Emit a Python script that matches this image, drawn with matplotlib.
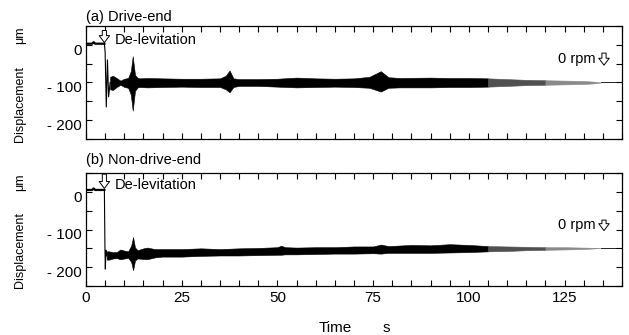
import numpy as np
import matplotlib
matplotlib.use("Agg")
import matplotlib.pyplot as plt
from matplotlib.ticker import MultipleLocator, FuncFormatter
from matplotlib.transforms import ScaledTranslation

plt.rcParams['font.family'] = ['Liberation Sans', 'DejaVu Sans']

# levitated level before touchdown (um)
pre_t = [0, 1.6, 2.0, 2.4, 4.8]
pre_a = [3, 3, 7, 3, 3]
pre_b = [5, 5, 9, 5, 5]

# drop at de-levitation
drop_t_a = [4.8, 5.0, 5.3, 5.6, 5.9, 6.3]
drop_a = [3, -20, -165, -40, -138, -100]
drop_t_b = [4.8, 4.95, 5.05, 5.2, 5.4]
drop_b = [5, -150, -205, -155, -170]

# vibration envelope, drive-end
t_a = [6.3, 7, 8, 9, 10, 11, 11.7, 12.2, 12.8, 13.5, 14, 16, 20, 25, 30, 35, 36.5,
       37.5, 38.5, 40, 45, 50, 55, 60, 65, 70, 74, 77, 79, 82, 90, 95, 100, 105,
       110, 115, 120, 125, 130, 133, 134.5]
up_a = [-85, -82, -88, -95, -90, -88, -70, -30, -80, -88, -89, -88, -89, -90, -90,
        -89, -82, -68, -89, -91, -91, -90, -87, -89, -90, -89, -85, -70, -86, -88,
        -87, -88, -88, -89, -91, -93, -94, -95, -96, -98, -100]
lo_a = [-118, -120, -112, -106, -112, -114, -132, -175, -122, -113, -112, -113,
        -112, -111, -112, -112, -118, -126, -112, -109, -109, -111, -113, -112,
        -111, -112, -114, -124, -114, -113, -113, -112, -112, -111, -109, -107,
        -106, -105, -104, -102, -100]

# vibration envelope, non-drive-end
t_b = [5.4, 6, 7, 8, 9, 10, 11, 11.8, 12.3, 12.8, 13.5, 15, 16, 18, 20, 25, 30, 35,
       40, 45, 50, 51, 52, 55, 60, 65, 70, 75, 77, 79, 85, 90, 95, 100, 105, 110,
       115, 120, 125, 130, 134.5]
up_b = [-158, -158, -160, -160, -153, -156, -158, -143, -120, -148, -155, -150,
        -148, -152, -152, -152, -150, -152, -150, -149, -147, -143, -147, -148,
        -147, -147, -145, -145, -140, -144, -141, -142, -139, -141, -144, -145,
        -146, -147, -147, -148, -149]
lo_b = [-180, -180, -177, -176, -179, -177, -175, -186, -208, -182, -177, -178,
        -179, -174, -172, -172, -170, -169, -169, -168, -167, -167, -166, -166,
        -165, -164, -164, -163, -164, -162, -162, -162, -161, -160, -158, -157,
        -155, -154, -153, -152, -149]

tail_t = [134.5, 140]
tail_a = [-100, -100]
tail_b = [-149, -149]

shades = [(0, 105, 'black'), (105, 120, '#505050'), (120, 135, '#8a8a8a')]

fig = plt.figure(figsize=(6.29, 3.35), dpi=100)
W, H = 629, 335


def px_axes(left, top, right, bottom):
    return fig.add_axes([left / W, 1 - bottom / H, (right - left) / W, (bottom - top) / H])


def ylab(v, pos):
    return '0' if v == 0 else '- %d' % abs(v)


def draw(ax, t, up, lo, pt, pv, dt, dv, tv, title, title_y, rpm_y, lev_y, arr_top, rpm_arr):
    t = np.array(t)
    up = np.array(up)
    lo = np.array(lo)
    ax.plot(pt, pv, color='black', lw=1.6)
    ax.plot(dt, dv, color='black', lw=0.8)
    for a, b, c in shades:
        m = (t >= a) & (t <= b)
        ax.fill_between(t[m], lo[m], up[m], color=c, lw=0.4)
    ax.plot(tail_t, tv, color='black', lw=0.6)

    ax.set_xlim(0, 140)
    ax.set_ylim(-250, 50)
    ax.xaxis.set_major_locator(MultipleLocator(25))
    ax.xaxis.set_minor_locator(MultipleLocator(5))
    ax.yaxis.set_major_locator(MultipleLocator(100))
    ax.yaxis.set_minor_locator(MultipleLocator(50))
    ax.yaxis.set_major_formatter(FuncFormatter(ylab))
    ax.tick_params(which='both', direction='in', top=True, right=True,
                   length=4, width=0.8, labelsize=11)
    ax.tick_params(axis='y', pad=3)
    for sp in ax.spines.values():
        sp.set_linewidth(0.9)
    off = ScaledTranslation(0, -3.2 / 72, fig.dpi_scale_trans)
    for lbl in ax.get_yticklabels():
        lbl.set_transform(lbl.get_transform() + off)

    arrow = dict(arrowstyle='simple,head_width=0.75,head_length=0.5,tail_width=0.3',
                 fc='white', ec='black', lw=0.7, mutation_scale=10,
                 shrinkA=0, shrinkB=0)
    ax.annotate('', xy=(4.8, arr_top[1]), xytext=(4.8, arr_top[0]), arrowprops=arrow)
    ax.text(7.6, lev_y, 'De-levitation', fontsize=10.5, va='center', ha='left')
    ax.annotate('', xy=(135.3, rpm_arr[1]), xytext=(135.3, rpm_arr[0]), arrowprops=arrow)
    ax.text(133.2, rpm_y, '0 rpm', fontsize=10.5, va='center', ha='right')

    fig.text(86 / W, 1 - title_y / H, title, fontsize=10.5, va='baseline', ha='left')


ax1 = px_axes(86, 26, 622, 139)
ax2 = px_axes(86, 173, 622, 286)

draw(ax1, t_a, up_a, lo_a, pre_t, pre_a, drop_t_a, drop_a, tail_a,
     '(a) Drive-end', 21, -37, 13, (38, 6), (-22, -54))
draw(ax2, t_b, up_b, lo_b, pre_t, pre_b, drop_t_b, drop_b, tail_b,
     '(b) Non-drive-end', 164, -87, 19, (47, 9), (-75, -103))
ax1.tick_params(labelbottom=False)

for yc in (103.5, 250):
    fig.text(20 / W, 1 - yc / H, 'Displacement', rotation=90, fontsize=9,
             va='center', ha='center')
for yc in (35, 182):
    fig.text(20 / W, 1 - yc / H, 'μm', rotation=90, fontsize=9,
             va='center', ha='center')

fig.text(335 / W, 1 - 332 / H, 'Time', fontsize=11, ha='center', va='baseline')
fig.text(386 / W, 1 - 332 / H, 's', fontsize=11, ha='center', va='baseline')

fig.savefig('out.png', dpi=100)
